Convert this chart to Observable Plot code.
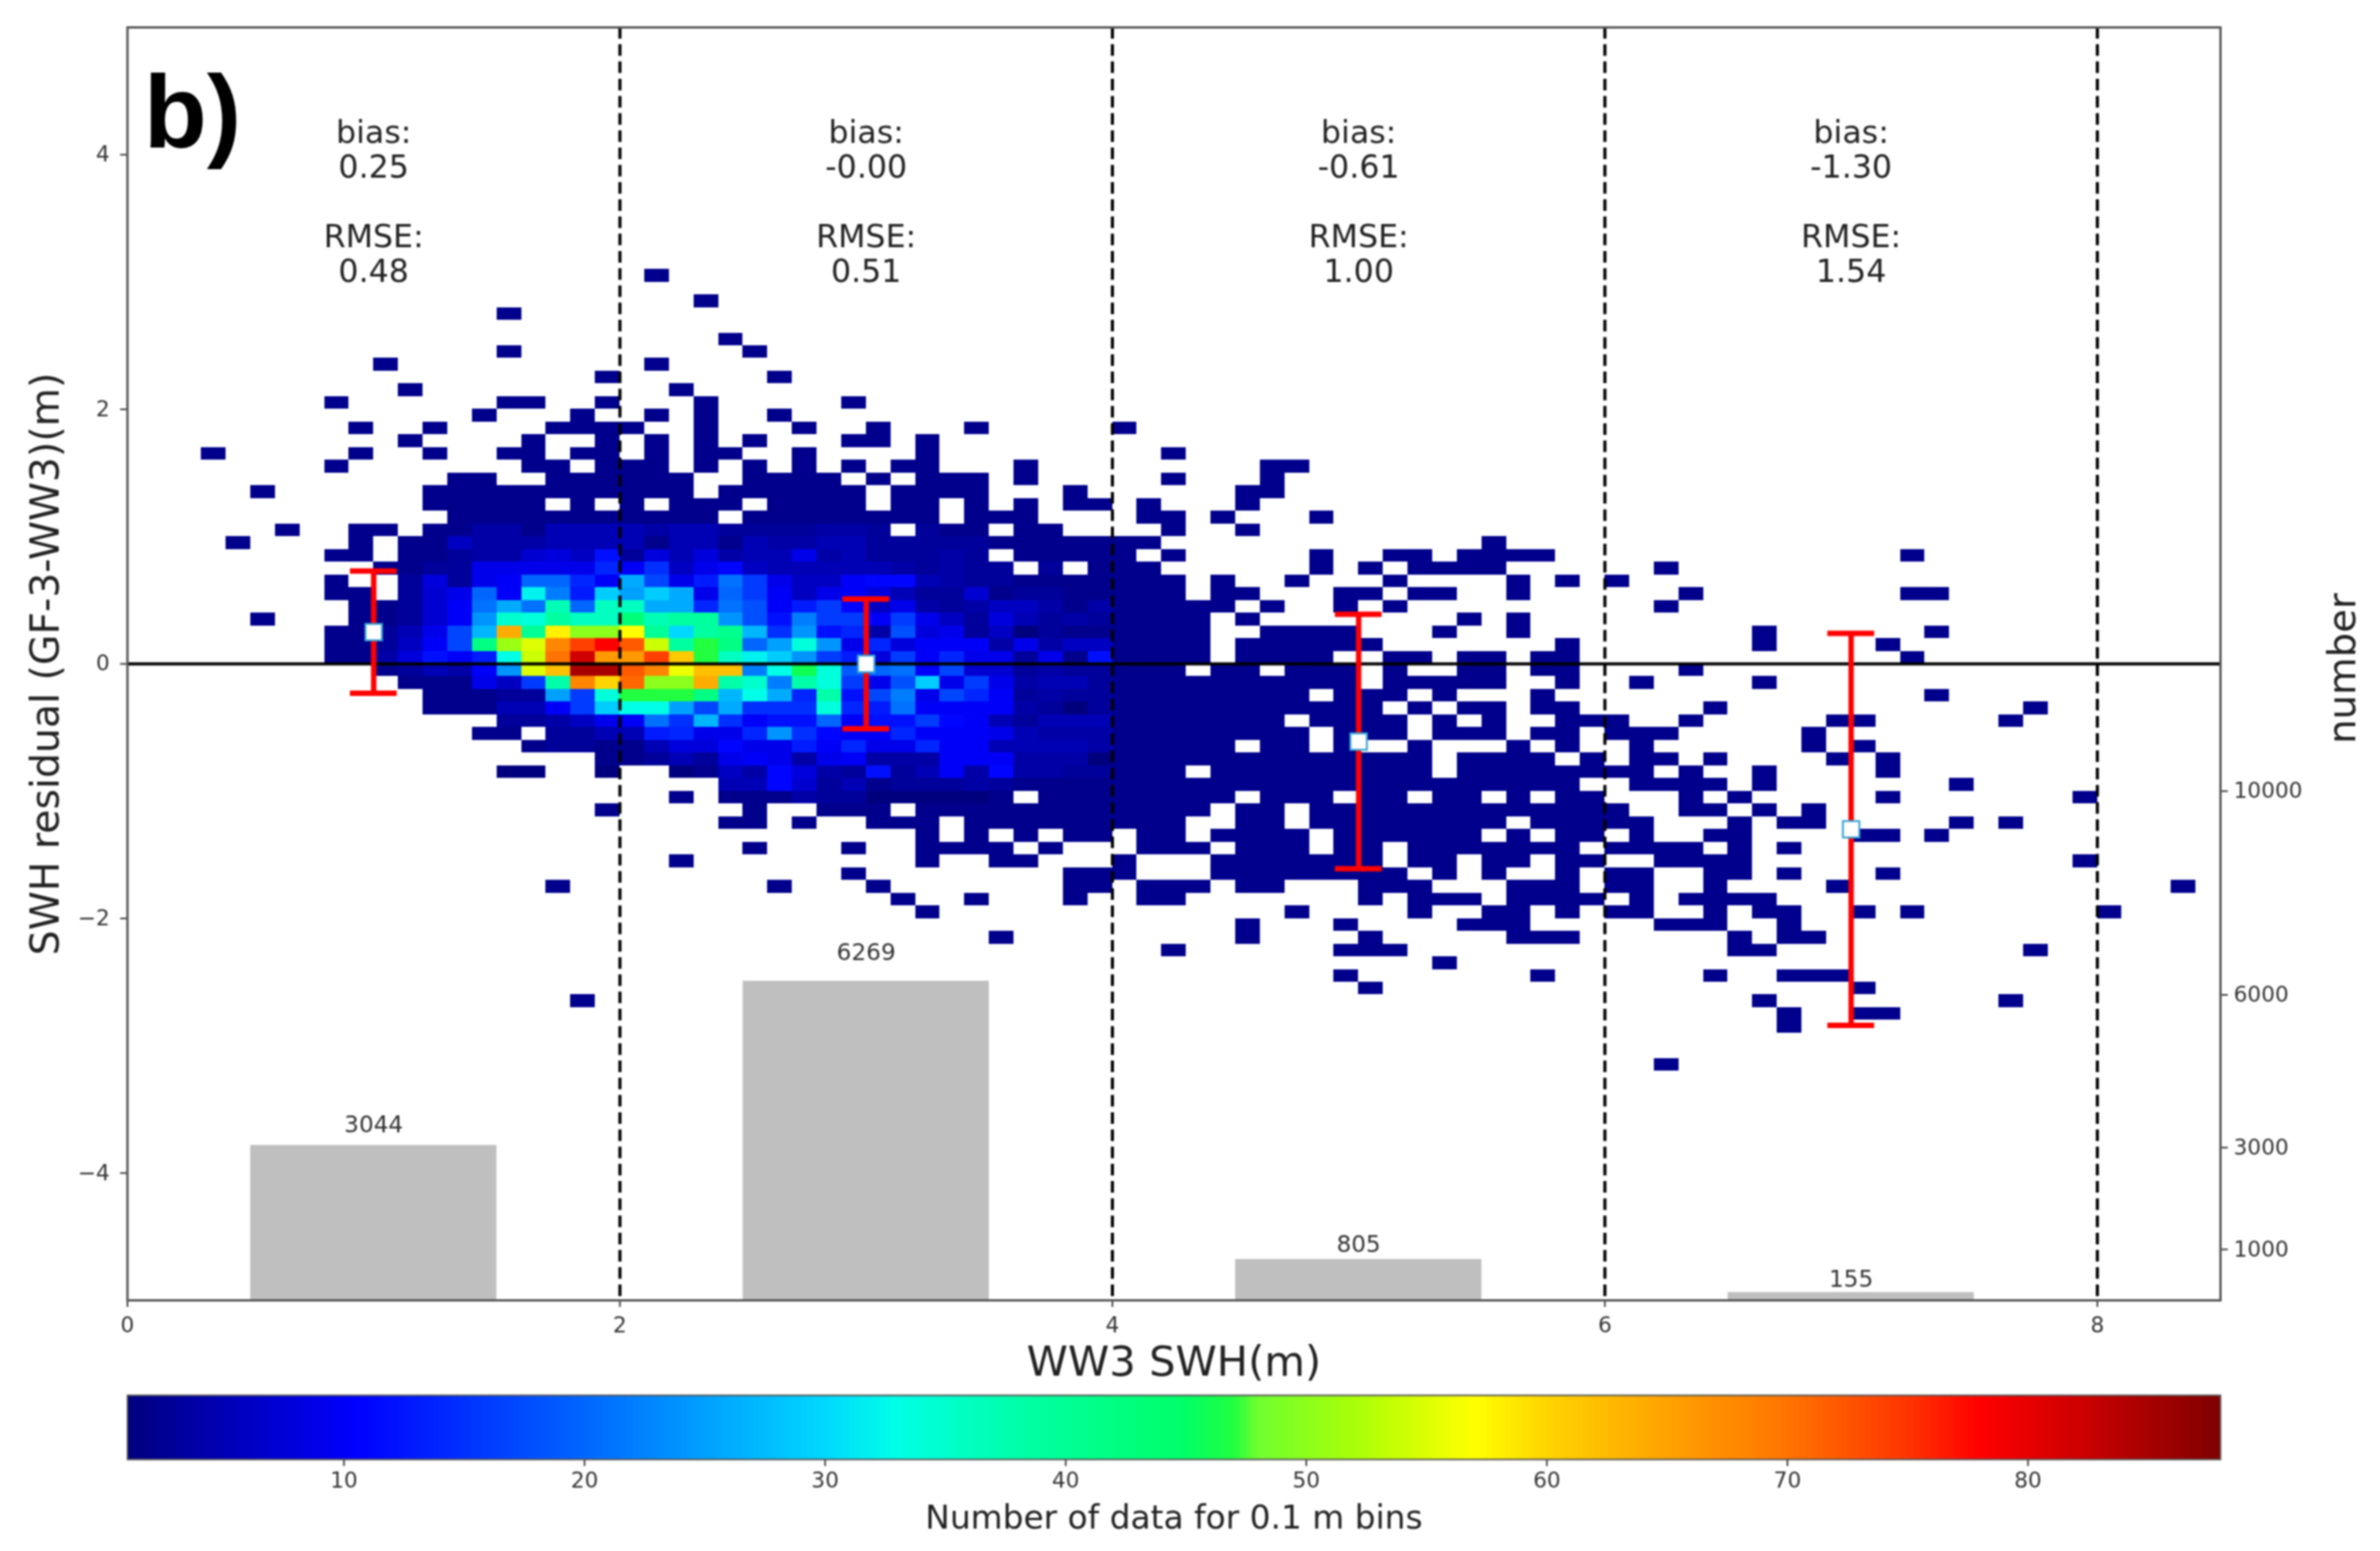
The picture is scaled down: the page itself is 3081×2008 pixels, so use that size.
<!DOCTYPE html>
<html>
<head>
<meta charset="utf-8">
<script src="https://cdn.jsdelivr.net/npm/d3@7"></script>
<script src="https://cdn.jsdelivr.net/npm/@observablehq/plot@0.6"></script>
<style>
  html, body { margin: 0; padding: 0; background: #fff; }
  svg { display: block; }
</style>
</head>
<body>
<div id="chart"></div>
<script>
// ---- values ----
const binCentres = [1, 3, 5, 7];
const biasValues = [0.25, -0.00, -0.61, -1.30];
const rmseValues = [0.48, 0.51, 1.00, 1.54];
const biasLabels = ["0.25", "-0.00", "-0.61", "-1.30"];
const rmseLabels = ["0.48", "0.51", "1.00", "1.54"];
const binCounts = [3044, 6269, 805, 155];
const xTicks = [0, 2, 4, 6, 8];
const yTicks = [-4, -2, 0, 2, 4];
const countTicks = [1000, 3000, 6000, 10000];
const colourTicks = [10, 20, 30, 40, 50, 60, 70, 80];
const dividers = [2, 4, 6, 8];

// Which 0.1 m bins hold data: [row, "column runs"]. A row n spans (n-1)/10..n/10 m, a column c spans c/10..(c+1)/10 m.
const occupiedRuns = [
  [31,"21"],[29,"23"],[28,"15"],[26,"24"],[25,"15 25"],[24,"10 21"],[23,"19 26"],[22,"11 22"],
  [21,"8 15-16 19 23 29"],[20,"14 18 21 23 26"],[19,"9 12 17-20 23 27 30 34 40"],
  [18,"11 16 19 21 23 25 29-30 32"],[17,"3 9 12 15-16 18-19 21 23-24 27 32 42"],
  [16,"8 16-17 19-21 23 25 27 29 31-32 36 46-47"],[15,"13-14 17-22 25-28 30 32-34 36 42 46"],
  [14,"5 12-22 24-29 31-34 38 45-46"],[13,"12-16 18 20 22-24 26-29 31-32 34 36 38-39 41 45"],
  [12,"13-23 25-32 34-36 41-42 44 48"],[11,"6 9-10 12-30 32-34 36-37 42 45"],
  [10,"4 9 11-41 55"],[9,"8-9 11-34 36-40 42 48 51-52 54-57 72"],[8,"10-35 37 39-41 48 50 52-55 62"],
  [7,"8 11-42 44 47 51 56 58 60"],[6,"8-9 11-42 44-45 49-50 52-53 56 63 72-73"],
  [5,"9-44 46 49 51 62"],[4,"5 9-43 45 54 56"],[3,"8-43 46-49 53 56 66 73"],
  [2,"8-43 45-50 58 66 71"],[1,"8-43 45-48 51-52 54-55 57-58 72"],
  [0,"10-42 44-45 47-49 51 54-55 57-58 63"],[-1,"11-49 51-55 58 61 66"],
  [-2,"12-47 49-51 53 57 73"],[-3,"12-50 52 54-55 57-58 64 77"],
  [-4,"15-46 48-51 53 55 58-60 63 69-70 76"],[-5,"14-15 17-47 49-51 53-55 57-58 60-62 68"],
  [-6,"16-44 46-47 49 52 56 58 61 68 70"],[-7,"19-52 54-57 59 61-62 64 69 71"],
  [-8,"15-16 19 22-42 44-52 54-61 63 66 71"],[-9,"24-58 61-64 66 74"],
  [-10,"22 24-35 37-44 46-48 50-51 53-54 56 58-59 63 65 71 79"],
  [-11,"19 25 28-30 32-43 45-46 48-60 63-64 66 68"],
  [-12,"24-25 27 30-32 34-42 45-46 48-55 57-61 65 67-68 74 76"],
  [-13,"32 34 36 38-39 41-42 44-47 49-54 56 58-59 61 64-65 70-71 73"],
  [-14,"25 29 32-35 37 41-43 45-47 49-50 52-58 60-63 65 67"],
  [-15,"22 32 35-36 40 44-50 52-53 55-56 58-59 62-65 79"],
  [-16,"29 38-40 44-51 53 55 58 60-61 64-65 67 71"],
  [-17,"17 26 30 38-39 41-43 45-46 50-52 56-58 60-61 64 69 83"],
  [-18,"31 34 38 41-42 50 52-54 56-59 61 63-66"],
  [-19,"32 47 52 55-56 58 60-61 64 66-67 70 72 80"],[-20,"45 49 54-56 62-64 67"],
  [-21,"35 45 50 56-58 65 67-68"],[-22,"42 49-51 65-66 77"],[-23,"53"],[-24,"49 57 64 67-69"],
  [-25,"50 70"],[-26,"18 66 76"],[-27,"67 70-71"],[-28,"67"],[-31,"62"]
];
// Counts in the crowded part of the picture, columns 8..39 left to right. Other occupied bins hold about 2.
const denseFirstColumn = 8;
const denseCounts = [
  [11,[0,2,2,0,2, 2,4,4,2,5,5,5,5,4,5,5,3,3,3,3,4,4,3,0,3,2,2,0,2,2,0,0]],
  [10,[0,2,0,2,2, 6,4,4,4,5,5,5,5,2,5,5,2,5,4,4,5,5,3,3,3,3,3,2,2,2,2,2]],
  [9,[2,2,0,2,2, 3,4,4,7,8,6,12,3,8,5,8,4,5,5,9,4,5,3,3,3,4,3,0,2,2,2,2]],
  [8,[2,2,2,2,3, 3,9,9,9,9,9,14,10,15,6,9,11,6,5,5,5,5,5,4,3,4,3,3,0,3,0,2]],
  [7,[2,0,0,3,8, 3,9,10,20,20,14,10,26,17,9,13,21,16,9,6,6,10,11,11,5,4,3,3,2,2,2,2]],
  [6,[2,2,0,3,7, 9,20,10,32,22,13,29,25,29,26,9,20,16,10,6,9,10,8,5,3,3,7,2,3,3,2,2]],
  [5,[0,2,2,3,7, 10,21,26,21,37,20,36,36,26,26,14,21,18,10,13,16,11,6,9,4,3,4,6,6,4,2,4]],
  [4,[0,2,2,3,7, 10,24,35,34,39,36,36,43,37,39,39,24,18,12,22,16,16,10,16,9,6,3,8,5,3,4,3]],
  [3,[2,2,3,5,9, 17,27,64,40,58,50,50,57,40,30,39,41,27,15,24,12,14,4,18,8,9,3,6,1,3,2,2]],
  [2,[2,2,3,6,10, 17,42,51,55,68,74,78,72,54,39,47,42,20,25,34,24,9,14,8,10,10,10,4,9,4,6,6]],
  [1,[2,2,4,8,12, 10,13,33,54,70,82,66,66,74,61,47,36,32,29,24,16,13,8,16,10,14,9,9,3,9,2,12]],
  [0,[0,0,2,3,5, 4,10,24,55,62,85,85,72,68,56,62,62,22,33,46,34,19,20,21,10,17,7,7,3,4,3,3]],
  [-1,[0,0,0,2,2, 2,9,6,16,38,68,60,71,50,50,64,38,35,22,38,34,16,9,18,29,9,16,9,4,5,5,3]],
  [-2,[0,0,0,0,2, 2,2,3,3,25,16,34,47,47,47,42,27,33,26,14,38,12,17,22,9,17,14,10,3,4,3,3]],
  [-3,[0,0,0,0,2, 2,2,5,5,10,16,29,33,33,25,17,26,15,15,15,34,14,13,21,10,10,10,10,4,3,1,3]],
  [-4,[0,0,0,0,0, 0,0,3,3,4,6,9,10,21,15,27,15,10,12,12,20,10,12,12,16,11,10,5,3,5,5,5]],
  [-5,[0,0,0,0,0, 0,2,2,0,3,3,5,5,13,14,9,9,14,24,15,11,10,10,14,10,10,10,9,5,4,4,4]],
  [-6,[0,0,0,0,0, 0,0,0,2,3,3,2,2,5,8,8,11,9,9,13,10,14,9,9,14,10,10,5,5,5,5,4]],
  [-7,[0,0,0,0,0, 0,0,0,0,0,0,2,2,3,5,3,9,10,9,4,9,10,4,4,4,10,10,10,4,4,4,1]],
  [-8,[0,0,0,0,0, 0,0,1,1,0,0,1,0,0,1,2,6,4,11,8,4,3,12,3,5,10,4,11,4,4,3,3]],
  [-9,[0,0,0,0,0, 0,0,0,0,0,0,0,0,0,0,0,5,5,11,7,3,5,2,3,3,3,4,3,2,2,2,2]],
  [-10,[0,0,0,0,0, 0,0,0,0,0,0,0,0,0,2,0,2,2,2,4,3,3,1,1,1,1,1,2,0,2,2,2]]
];

// ---- build the table the marks read ----
const denseByRow = new Map(denseCounts);
const parseRuns = s => s.split(" ").flatMap(run => {
  const [a, b = a] = run.split("-").map(Number);
  return d3.range(a, b + 1);
});
const cells = occupiedRuns.flatMap(([row, runs]) => parseRuns(runs).map(col => {
  const dense = denseByRow.get(row);
  const v = dense && dense[col - denseFirstColumn];
  return {x1: col / 10, x2: (col + 1) / 10, y1: (row - 1) / 10, y2: row / 10, count: v || 2};
}));
const stats = binCentres.map((x, i) => ({
  x, bias: biasValues[i], rmse: rmseValues[i], n: binCounts[i],
  biasText: "bias:\n" + biasLabels[i], rmseText: "RMSE:\n" + rmseLabels[i]
}));
// The histogram's right-hand axis runs 0..25000 over the same height as the -5..5 left axis.
const countToY = n => -5 + n / 2500;
const yToCount = y => Math.round((y + 5) * 2500);

const fontFamily = "DejaVu Sans";
const inkColour = "#333";
const colourScale = {
  type: "linear",
  domain: [1, 10.5, 15, 20, 25, 30, 33, 38, 45, 47, 48, 52, 57, 60, 65, 70, 75, 78, 82, 88],
  range: ["#00007f", "#0000ff", "#0030ff", "#0066ff", "#00a0ff", "#00d8ff", "#00ffe6", "#00ffa8", "#00ff66", "#20ff40", "#70ff30", "#a8ff08", "#ffff00", "#ffd400", "#ffa200", "#ff7400", "#ff3400", "#ff0000", "#d00000", "#7f0000"],
  clamp: true
};
const capHalf = 0.095;
const axisStyle = {label: null, tickSize: 9, fontSize: 28, color: inkColour, strokeWidth: 2};

const main = Plot.plot({
  width: 3081, height: 1802,
  marginLeft: 164.5, marginRight: 207, marginTop: 35, marginBottom: 119,
  style: {fontFamily, background: "white", filter: "blur(0.8px)"},
  x: {domain: [0, 8.5]},
  y: {domain: [-5, 5]},
  color: colourScale,
  marks: [
    Plot.rect(cells, {x1: "x1", x2: "x2", y1: "y1", y2: "y2", fill: "count", shapeRendering: "crispEdges"}),
    Plot.rect(stats, {x1: d => d.x - 0.5, x2: d => d.x + 0.5, y1: -5, y2: d => countToY(d.n), fill: "#bfbfbf"}),
    Plot.text(stats, {x: "x", y: d => countToY(d.n * 1.05), text: d => String(d.n), fontSize: 30, lineAnchor: "bottom", dy: -7, fill: inkColour}),
    Plot.ruleX(dividers, {stroke: "black", strokeWidth: 4, strokeDasharray: "15,7.3"}),
    Plot.ruleY([0], {stroke: "black", strokeWidth: 4}),
    Plot.ruleX(stats, {x: "x", y1: d => d.bias - d.rmse, y2: d => d.bias + d.rmse, stroke: "red", strokeWidth: 7}),
    Plot.ruleY(stats, {y: d => d.bias - d.rmse, x1: d => d.x - capHalf, x2: d => d.x + capHalf, stroke: "red", strokeWidth: 7}),
    Plot.ruleY(stats, {y: d => d.bias + d.rmse, x1: d => d.x - capHalf, x2: d => d.x + capHalf, stroke: "red", strokeWidth: 7}),
    Plot.dot(stats, {x: "x", y: "bias", symbol: "square", r: 12, fill: "white", stroke: "#39a5d5", strokeWidth: 2.5}),
    Plot.text(stats, {x: "x", frameAnchor: "top", text: "biasText", fontSize: 41, lineHeight: 1.1, lineAnchor: "top", dy: 117, fill: "#222"}),
    Plot.text(stats, {x: "x", frameAnchor: "top", text: "rmseText", fontSize: 41, lineHeight: 1.1, lineAnchor: "top", dy: 252, fill: "#222"}),
    Plot.text(["b)"], {frameAnchor: "top-left", dx: 21, dy: 60, fontSize: 134, fontWeight: "bold", fontFamily: "Liberation Sans", lineAnchor: "top", textAnchor: "start", fill: "black"}),
    Plot.axisX(xTicks, {...axisStyle, anchor: "bottom", tickPadding: 13, tickFormat: d => String(d)}),
    Plot.axisY(yTicks, {...axisStyle, anchor: "left", tickPadding: 14,
      tickFormat: d => d < 0 ? "\u2212" + (-d) : String(d)}),
    Plot.axisY(countTicks.map(countToY), {...axisStyle, anchor: "right", tickPadding: 8,
      tickFormat: d => String(yToCount(d))}),
    Plot.text(["WW3 SWH(m)"], {frameAnchor: "bottom", lineAnchor: "middle", dy: 80, fontSize: 54, fill: "#222"}),
    Plot.text(["SWH residual (GF-3-WW3)(m)"], {frameAnchor: "left", textAnchor: "middle", lineAnchor: "middle", dx: -105, rotate: -90, fontSize: 51, fill: "#222"}),
    Plot.text(["number"], {frameAnchor: "right", textAnchor: "middle", lineAnchor: "middle", dx: 158, dy: 6, rotate: -90, fontSize: 50, fill: "#222"}),
    Plot.frame({stroke: "#555", strokeWidth: 3})
  ]
});

const bar = Plot.plot({
  width: 3081, height: 206,
  marginLeft: 164.5, marginRight: 207, marginTop: 4, marginBottom: 119,
  style: {fontFamily, background: "white", filter: "blur(0.8px)"},
  x: {domain: [1, 88]},
  y: {domain: [0, 1], axis: null},
  color: colourScale,
  marks: [
    Plot.rect(d3.range(1, 88, 0.25), {x1: d => d, x2: d => d + 0.25, y1: 0, y2: 1, fill: d => d + 0.125, shapeRendering: "crispEdges"}),
    Plot.axisX(colourTicks, {...axisStyle, anchor: "bottom", tickPadding: 8, tickFormat: d => String(d)}),
    Plot.text(["Number of data for 0.1 m bins"], {frameAnchor: "bottom", lineAnchor: "middle", dy: 76, fontSize: 42.5, fill: "#222"}),
    Plot.frame({stroke: "#555", strokeWidth: 2})
  ]
});

const host = document.getElementById("chart");
host.append(main, bar);
</script>
</body>
</html>
